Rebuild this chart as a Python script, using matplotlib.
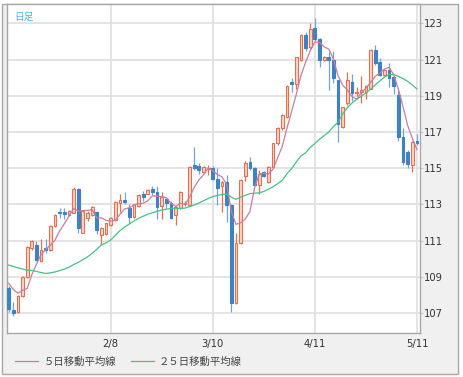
import matplotlib
matplotlib.use("Agg")
import matplotlib.pyplot as plt
from matplotlib.patches import Rectangle
import numpy as np
import pandas as pd

plt.rcParams['font.family'] = ['Noto Sans CJK JP', 'DejaVu Sans']

# daily candles (open, high, low, close)
opens = [108.4, 107.15, 107.05, 107.95, 109.0, 110.6, 110.75, 109.9, 110.6, 110.5,
         111.8, 112.6, 112.6, 112.4, 112.55, 113.85, 111.45, 112.25, 112.4, 112.6,
         111.3, 111.35, 111.85, 112.13, 113.07, 113.25, 112.8, 112.3, 112.9, 113.6,
         113.6, 113.85, 113.7, 112.9, 113.3, 113.1, 112.4, 112.8, 113.0, 112.95,
         115.2, 115.15, 114.8, 114.95, 115.02, 114.4, 114.03, 114.25, 112.96, 107.53,
         110.85, 114.57, 115.35, 115.0, 114.07, 114.78, 114.25, 115.08, 116.37, 117.2,
         117.84, 119.77, 119.65, 120.97, 122.35, 121.7, 122.72, 122.12, 120.97, 121.15,
         120.97, 119.87, 117.29, 118.58, 119.77, 119.13, 119.2, 119.22, 119.4, 121.52,
         120.88, 120.14, 120.42, 120.05, 119.04, 116.73, 115.9, 115.17, 116.51]
highs = [108.5, 107.6, 108.0, 109.05, 110.7, 111.05, 111.0, 111.1, 111.1, 111.85,
         112.45, 112.8, 112.8, 112.7, 113.97, 113.9, 112.7, 112.65, 112.9, 112.65,
         111.75, 112.0, 112.3, 113.2, 113.55, 113.7, 113.0, 113.05, 113.55, 113.75,
         113.85, 114.0, 114.0, 113.7, 113.4, 113.2, 112.9, 113.75, 113.2, 115.1,
         116.2, 115.3, 115.15, 115.2, 115.1, 115.0, 114.3, 114.6, 113.0, 111.4,
         114.4, 115.4, 115.6, 115.05, 114.9, 114.85, 115.15, 116.4, 117.25, 118.0,
         119.6, 120.0, 121.15, 122.4, 122.5, 123.0, 123.28, 122.2, 121.2, 121.4,
         121.5, 119.9, 118.4, 120.33, 120.2, 119.5, 120.1, 119.6, 121.6, 121.8,
         121.1, 120.5, 120.8, 120.1, 119.3, 117.2, 116.0, 116.5, 116.9]
lows = [107.05, 106.85, 107.0, 107.9, 108.95, 110.5, 109.9, 109.8, 110.3, 110.45,
        111.75, 112.25, 112.2, 112.35, 112.5, 111.4, 111.4, 112.1, 112.35, 111.35,
        110.75, 111.3, 111.8, 112.1, 112.6, 113.0, 112.0, 112.25, 112.85, 113.2,
        113.55, 113.5, 112.2, 112.2, 112.8, 112.2, 111.85, 112.75, 112.9, 112.9,
        114.9, 114.7, 114.75, 114.6, 114.35, 112.96, 112.6, 112.04, 107.07, 107.5,
        110.8, 114.3, 114.9, 114.0, 113.6, 114.5, 114.2, 115.0, 116.3, 117.1,
        117.8, 119.2, 119.4, 120.9, 121.5, 121.6, 122.0, 120.6, 120.9, 119.3,
        119.7, 116.46, 117.2, 118.5, 118.7, 119.0, 118.6, 118.8, 119.35, 120.7,
        120.1, 120.1, 119.5, 119.1, 116.5, 115.2, 115.0, 114.8, 116.3]
closes = [107.2, 107.0, 107.95, 109.0, 110.65, 111.0, 109.95, 110.5, 110.5, 111.8,
          112.4, 112.5, 112.45, 112.65, 113.85, 111.7, 112.65, 112.5, 112.85, 111.6,
          111.7, 111.95, 112.25, 113.15, 113.25, 113.15, 112.3, 113.0, 113.5, 113.4,
          113.8, 113.7, 112.85, 113.4, 113.1, 112.25, 112.85, 113.7, 113.1, 115.07,
          115.0, 114.9, 115.08, 115.0, 114.38, 113.9, 114.25, 112.96, 107.53, 110.85,
          114.35, 115.3, 114.99, 114.07, 114.7, 114.58, 115.08, 116.37, 117.2, 117.93,
          119.54, 119.65, 121.12, 122.35, 121.62, 122.67, 122.12, 120.97, 121.15, 120.97,
          119.96, 117.47, 118.36, 119.87, 119.13, 119.22, 119.3, 119.54, 121.52, 120.79,
          120.14, 120.42, 119.96, 119.54, 116.73, 115.35, 115.22, 116.46, 116.37]

# first 5-day MA points (need days before the chart)
ma5_head = [108.65, 108.3, 108.1, 108.25]

# 25-day moving average
ma25 = [109.65, 109.58, 109.5, 109.43, 109.37, 109.36, 109.3, 109.24, 109.19, 109.22,
        109.27, 109.35, 109.43, 109.53, 109.68, 109.8, 109.95, 110.1, 110.3, 110.52,
        110.77, 110.88, 111.03, 111.3, 111.55, 111.75, 111.92, 112.08, 112.23, 112.35,
        112.46, 112.54, 112.62, 112.69, 112.74, 112.78, 112.78, 112.78, 112.8, 112.88,
        112.97, 113.08, 113.2, 113.33, 113.43, 113.5, 113.55, 113.58, 113.4, 113.28,
        113.4, 113.5, 113.6, 113.62, 113.64, 113.72, 113.84, 113.98, 114.15, 114.35,
        114.7, 114.98, 115.35, 115.68, 115.85, 116.15, 116.36, 116.6, 116.8, 117.0,
        117.3, 117.55, 118.0, 118.35, 118.6, 118.8, 118.98, 119.16, 119.36, 119.6,
        119.82, 120.03, 120.18, 120.17, 120.08, 119.95, 119.8, 119.6, 119.38]

tick_idx = [22, 44, 66, 88]
tick_labels = ['2/8', '3/10', '4/11', '5/11']

o = np.array(opens); h = np.array(highs); l = np.array(lows); c = np.array(closes)
x = np.arange(len(c))
ma5 = pd.Series(c).rolling(5).mean().to_numpy()
ma5[:4] = ma5_head

up_edge = '#e2714f'
up_fill = '#f9d6c8'
dn_col = '#3d83c3'

W, H = 463, 377
fig = plt.figure(figsize=(W / 100, H / 100), dpi=100)
fig.patches.append(Rectangle((2 / W, 1 - 374 / H), 456 / W, 370 / H, transform=fig.transFigure,
                             facecolor='#f0f0f0', edgecolor='#a8a8a8', lw=1, zorder=-5))
ax = fig.add_axes([7 / W, 1 - 333 / H, 412.5 / W, 329 / H])
ax.set_facecolor('white')

up = c >= o
ax.vlines(x[up], l[up], h[up], color=up_edge, lw=0.9, zorder=2)
ax.vlines(x[~up], l[~up], h[~up], color='#6fa6d6', lw=0.9, zorder=2)
body_lo = np.minimum(o, c)
body_h = np.maximum(np.abs(c - o), 0.06)
ax.bar(x[up], body_h[up], bottom=body_lo[up], width=0.6, color=up_fill,
       edgecolor=up_edge, linewidth=0.8, zorder=3)
ax.bar(x[~up], body_h[~up], bottom=body_lo[~up], width=0.6, color=dn_col,
       edgecolor=dn_col, linewidth=0.8, zorder=3)

l5, = ax.plot(x, ma5, color='#c97da0', lw=0.9, zorder=4, label='５日移動平均線')
l25, = ax.plot(x, ma25, color='#45c184', lw=0.9, zorder=4, label='２５日移動平均線')

ax.set_xlim(-0.35, 88.55)
ax.set_ylim(105.9, 124.07)
ax.set_yticks(np.arange(107, 124, 2))
ax.set_xticks(tick_idx)
ax.set_xticklabels(tick_labels)
ax.yaxis.tick_right()
ax.grid(True, color='#e2e2e2', lw=1.3)
ax.set_axisbelow(True)
ax.tick_params(axis='y', length=2, color='#c8c8c8', pad=1.5, labelsize=7.2, labelcolor='#333333')
ax.tick_params(axis='x', length=0, pad=4, labelsize=7.2, labelcolor='#333333')
for lab in ax.get_xticklabels() + ax.get_yticklabels():
    lab.set_family('DejaVu Sans')
for s in ax.spines.values():
    s.set_color('#a8a8a8')
    s.set_linewidth(1)

ax.text(0.018, 0.975, '日足', transform=ax.transAxes, color='#4bb4e6', fontsize=7,
        ha='left', va='top')

fig.legend(handles=[l5, l25], loc='lower left', bbox_to_anchor=(6 / W, 1 - 376 / H),
           ncol=2, frameon=False, fontsize=7.5, handlelength=2.2, columnspacing=1.4,
           handletextpad=0.5, labelcolor='#444444')

fig.savefig('out.png', dpi=100)
